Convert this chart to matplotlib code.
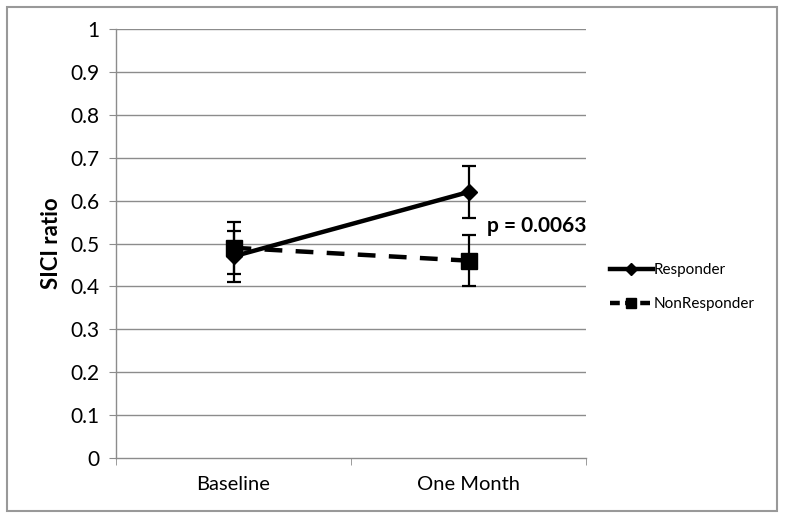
import matplotlib.pyplot as plt
from matplotlib.patches import Rectangle
from matplotlib.lines import Line2D

# chart data
categories = ['Baseline', 'One Month']
responder = [0.47, 0.62]
responder_err = [0.06, 0.06]
nonresponder = [0.49, 0.46]
nonresponder_err = [0.06, 0.06]
y_ticks = [0, 0.1, 0.2, 0.3, 0.4, 0.5, 0.6, 0.7, 0.8, 0.9, 1]
y_labels = ['0', '0.1', '0.2', '0.3', '0.4', '0.5', '0.6', '0.7', '0.8', '0.9', '1']

plt.rcParams['font.family'] = ['Lato', 'DejaVu Sans']

fig = plt.figure(figsize=(7.85, 5.19), dpi=100)
ax = fig.add_axes([116 / 785, 1 - 458 / 519, 470 / 785, 429 / 519])

grid_col = '#8c8c8c'
x = list(range(len(categories)))

# gridlines
for v in y_ticks[1:]:
    ax.axhline(v, color=grid_col, lw=1.0, zorder=0)

ax.errorbar(x, responder, yerr=responder_err, color='black', lw=3.2,
            marker='D', markersize=8, ecolor='black', elinewidth=1.6,
            capsize=5, capthick=1.6, zorder=3)
ax.errorbar(x, nonresponder, yerr=nonresponder_err, color='black', lw=3.2,
            ls=(0, (4, 3)), marker='s', markersize=11, ecolor='black',
            elinewidth=1.6, capsize=5, capthick=1.6, zorder=3)

ax.text(1.08, 0.54, 'p = 0.0063', fontsize=15, fontweight='bold', va='center')

ax.set_xlim(-0.5, 1.5)
ax.set_ylim(0, 1)
ax.set_xticks(x)
ax.set_xticklabels(categories, fontsize=14.5)
ax.set_xticks([-0.5, 0.5, 1.5], minor=True)
ax.tick_params(axis='x', which='major', length=0, pad=13)
ax.tick_params(axis='x', which='minor', length=5, color=grid_col, direction='out')
ax.set_yticks(y_ticks)
ax.set_yticklabels(y_labels, fontsize=15)
ax.tick_params(axis='y', length=5, color=grid_col, direction='out', pad=7)

for s in ['top', 'right']:
    ax.spines[s].set_visible(False)
for s in ['left', 'bottom']:
    ax.spines[s].set_color(grid_col)
    ax.spines[s].set_linewidth(1.0)

ax.set_ylabel('SICI ratio', fontsize=16, fontweight='bold', labelpad=6)

handles = [
    Line2D([], [], color='black', lw=3.2, marker='D', markersize=6),
    Line2D([], [], color='black', lw=3.2, ls=(0, (2.2, 1.2)), marker='s', markersize=7),
]
fig.legend(handles, ['Responder', 'NonResponder'], loc='center left',
           bbox_to_anchor=(596 / 785, 1 - 287 / 519), frameon=False,
           fontsize=11, handlelength=2.8, labelspacing=1.3, handletextpad=0.1)

# outer chart border
fig.patches.append(Rectangle((7 / 785, 1 - 511 / 519), 770 / 785, 504 / 519,
                             transform=fig.transFigure, fill=False,
                             edgecolor='#999999', lw=1.5))

fig.savefig('out.png', dpi=100)
